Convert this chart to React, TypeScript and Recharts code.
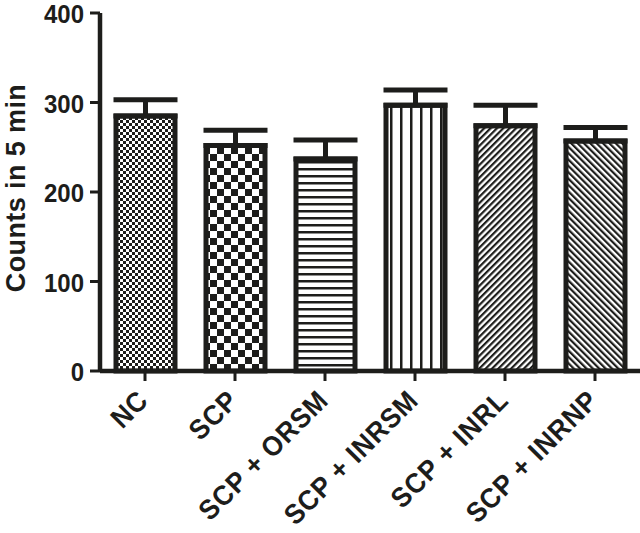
import { BarChart, Bar, XAxis, YAxis, ErrorBar, Cell } from 'recharts';

const categories = ['NC', 'SCP', 'SCP + ORSM', 'SCP + INRSM', 'SCP + INRL', 'SCP + INRNP'];
const means = [285, 252, 237, 297, 274, 257];
const sems = [18, 17, 21, 17, 23, 15];
const yTicks = [0, 100, 200, 300, 400];
const patterns = ['fineCheck', 'bigCheck', 'hLines', 'vLines', 'diagUp', 'diagDown'];

const data = categories.map((name, i) => ({
    name,
    value: means[i],
    err: [0, sems[i]],
}));

const INK = '#1d1d1b';
const FONT = '"Liberation Sans", Arial, sans-serif';

// prism-style lettering is a touch taller than plain Arial
const XTick = (props: any) => {
    const { x, y, payload } = props;
    const tx = x + 5;
    const ty = y + 19;
    return (
        <text
            transform={`translate(${tx} ${ty}) rotate(-45) scale(1 1.08)`}
            textAnchor="end"
            fontSize={26}
            fontWeight="bold"
            fontFamily={FONT}
            fill={INK}
            letterSpacing={0.9}
        >
            {payload.value}
        </text>
    );
};

const YTick = (props: any) => {
    const { x, y, payload } = props;
    return (
        <text
            transform={`translate(${x} ${y + 1}) scale(1 1.05)`}
            dy="0.36em"
            textAnchor="end"
            fontSize={24}
            fontWeight="bold"
            fontFamily={FONT}
            fill={INK}
        >
            {payload.value}
        </text>
    );
};

const YLabel = () => (
    <text
        transform="translate(25 188) rotate(-90)"
        textAnchor="middle"
        fontSize={27}
        fontWeight="bold"
        fontFamily={FONT}
        fill={INK}
        letterSpacing={0.4}
    >
        Counts in 5 min
    </text>
);

export default function App() {
    return (
        <div style={{ position: 'absolute', left: 0, top: 0, background: '#fff' }}>
            <BarChart
                width={640}
                height={533}
                data={data}
                margin={{ top: 13, right: 0, bottom: 0, left: 0 }}
                barCategoryGap={0}
            >
                <defs>
                    <pattern id="fineCheck" patternUnits="userSpaceOnUse" width={6} height={6}>
                        <rect width={6} height={6} fill="#fff" />
                        <rect x={0} y={0} width={3} height={3} fill={INK} />
                        <rect x={3} y={3} width={3} height={3} fill={INK} />
                    </pattern>
                    <pattern id="bigCheck" patternUnits="userSpaceOnUse" width={14} height={14}>
                        <rect width={14} height={14} fill="#fff" />
                        <rect x={0} y={0} width={7} height={7} fill={INK} />
                        <rect x={7} y={7} width={7} height={7} fill={INK} />
                    </pattern>
                    <pattern id="hLines" patternUnits="userSpaceOnUse" width={7} height={7}>
                        <rect width={7} height={7} fill="#fff" />
                        <rect x={0} y={0} width={7} height={2.5} fill={INK} />
                    </pattern>
                    <pattern id="vLines" patternUnits="userSpaceOnUse" width={10} height={10}>
                        <rect width={10} height={10} fill="#fff" />
                        <rect x={0} y={0} width={2.5} height={10} fill={INK} />
                    </pattern>
                    <pattern id="diagUp" patternUnits="userSpaceOnUse" width={4.5} height={4.5} patternTransform="rotate(45)">
                        <rect width={4.5} height={4.5} fill="#fff" />
                        <rect x={0} y={0} width={2.2} height={4.5} fill={INK} />
                    </pattern>
                    <pattern id="diagDown" patternUnits="userSpaceOnUse" width={4.5} height={4.5} patternTransform="rotate(-45)">
                        <rect width={4.5} height={4.5} fill="#fff" />
                        <rect x={0} y={0} width={2.2} height={4.5} fill={INK} />
                    </pattern>
                </defs>
                <XAxis
                    dataKey="name"
                    height={162}
                    interval={0}
                    stroke={INK}
                    axisLine={{ stroke: INK, strokeWidth: 4.5 }}
                    tickLine={{ stroke: INK, strokeWidth: 3 }}
                    tickSize={10}
                    tick={<XTick />}
                />
                <YAxis
                    width={100}
                    domain={[0, 400]}
                    ticks={yTicks}
                    stroke={INK}
                    axisLine={{ stroke: INK, strokeWidth: 4.5 }}
                    tickLine={{ stroke: INK, strokeWidth: 3 }}
                    tickSize={10}
                    tickMargin={6}
                    tick={<YTick />}
                    label={{ content: () => <YLabel /> }}
                />
                <Bar dataKey="value" barSize={59} stroke={INK} strokeWidth={5} isAnimationActive={false}>
                    {data.map((d, i) => (
                        <Cell key={`cell-${i}`} fill={`url(#${patterns[i]})`} />
                    ))}
                    <ErrorBar dataKey="err" width={32} stroke={INK} strokeWidth={5} direction="y" />
                </Bar>
            </BarChart>
        </div>
    );
}
